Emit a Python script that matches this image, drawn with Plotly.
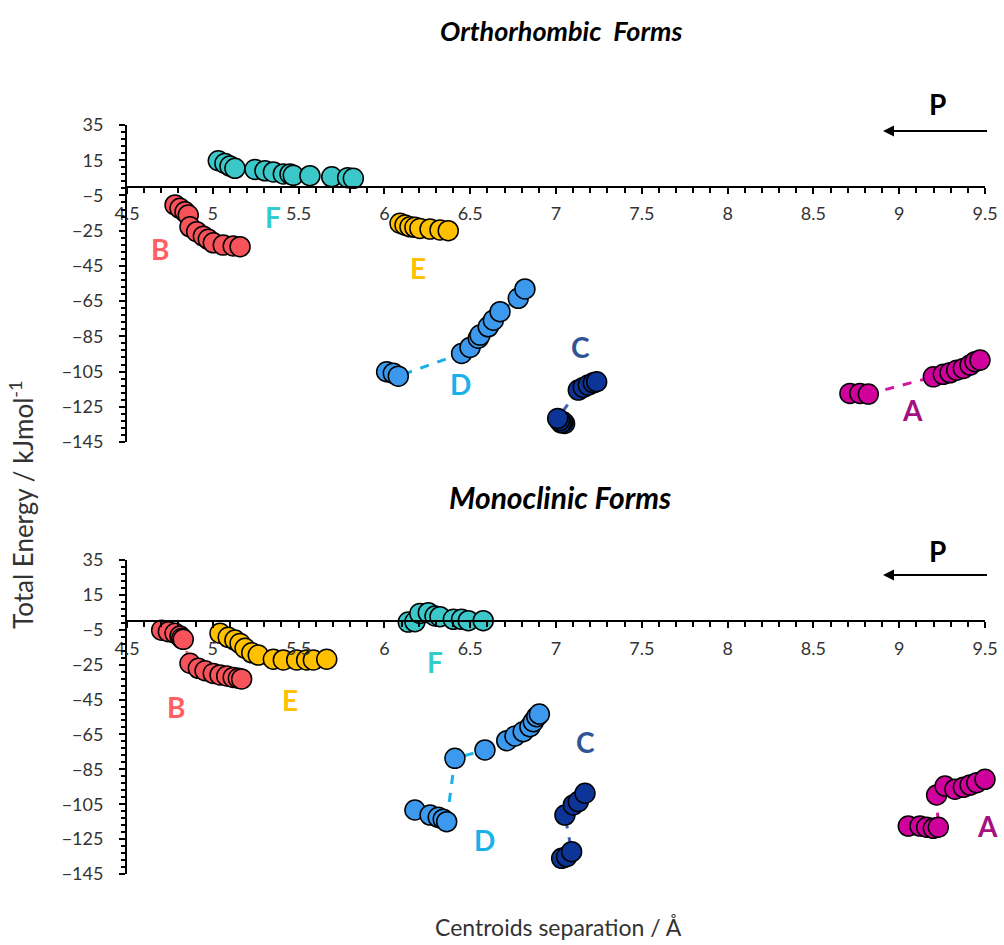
import plotly.graph_objects as go

# ---------------- data ----------------
# Orthorhombic forms (top panel)
orth_B_x = [4.780, 4.809, 4.838, 4.857, 4.867, 4.906, 4.945, 4.974, 5.003, 5.061, 5.119, 5.159]
orth_B_y = [-10.4, -12.3, -14.3, -16.1, -22.8, -25.6, -28.1, -29.9, -31.9, -33.2, -33.7, -34.1]
orth_F_x = [5.032, 5.071, 5.100, 5.129, 5.246, 5.304, 5.353, 5.411, 5.450, 5.469, 5.566, 5.693, 5.786, 5.819]
orth_F_y = [14.7, 13.2, 11.7, 10.4, 9.8, 9.0, 8.3, 7.2, 7.2, 6.4, 6.2, 5.6, 5.1, 4.7]
orth_E_x = [6.091, 6.120, 6.149, 6.178, 6.207, 6.266, 6.324, 6.372]
orth_E_y = [-20.8, -21.8, -22.8, -23.1, -23.7, -24.1, -24.6, -25.0]
orth_D_x = [6.013, 6.052, 6.081, 6.450, 6.499, 6.547, 6.557, 6.605, 6.635, 6.674, 6.780, 6.819]
orth_D_y = [-105.1, -106.0, -107.6, -94.7, -91.3, -86.1, -84.3, -79.6, -75.8, -71.0, -63.4, -58.1]
orth_C_x = [7.050, 7.040, 7.030, 7.020, 7.010, 7.130, 7.159, 7.188, 7.217, 7.237]
orth_C_y = [-134.5, -133.5, -134.1, -132.9, -131.6, -115.5, -114.0, -112.7, -111.4, -110.8]
orth_A_x = [8.713, 8.771, 8.820, 9.199, 9.257, 9.296, 9.335, 9.374, 9.413, 9.442, 9.471]
orth_A_y = [-117.4, -117.4, -117.8, -108.0, -106.6, -105.7, -104.2, -103.2, -101.3, -99.4, -98.5]

# Monoclinic forms (bottom panel)
mono_B_x = [4.702, 4.741, 4.780, 4.809, 4.819, 4.828, 4.867, 4.916, 4.955, 5.003, 5.042, 5.081, 5.119, 5.149, 5.168]
mono_B_y = [-5.2, -6.1, -7.0, -8.6, -9.9, -10.5, -24.2, -27.1, -28.5, -30.0, -30.9, -31.5, -32.3, -32.8, -33.2]
mono_E_x = [5.042, 5.090, 5.129, 5.159, 5.188, 5.227, 5.265, 5.353, 5.411, 5.489, 5.547, 5.586, 5.664]
mono_E_y = [-7.0, -9.3, -10.9, -12.8, -15.6, -18.2, -19.5, -21.9, -22.3, -22.3, -22.3, -22.3, -21.9]
mono_F_x = [6.139, 6.178, 6.207, 6.256, 6.295, 6.324, 6.402, 6.450, 6.489, 6.576]
mono_F_y = [-0.6, -0.4, 4.4, 4.8, 2.9, 2.5, 1.0, 1.0, 0.2, 0.2]
mono_D_x = [6.178, 6.266, 6.314, 6.343, 6.363, 6.411, 6.586, 6.713, 6.761, 6.809, 6.848, 6.868, 6.888, 6.903]
mono_D_y = [-108.3, -111.2, -112.5, -113.6, -115.0, -78.7, -73.9, -68.6, -65.9, -63.4, -60.6, -57.7, -54.8, -53.3]
mono_C_x = [7.033, 7.062, 7.091, 7.052, 7.101, 7.130, 7.169]
mono_C_y = [-136.0, -135.1, -132.2, -111.2, -105.4, -103.5, -98.7]
mono_A_x = [9.053, 9.121, 9.160, 9.199, 9.228, 9.218, 9.267, 9.325, 9.374, 9.413, 9.452, 9.500]
mono_A_y = [-117.5, -117.5, -118.2, -118.8, -118.2, -99.7, -94.6, -96.4, -95.3, -94.0, -92.7, -90.7]

x_range = [4.5, 9.5]
y_range = [-145, 35]

# label positions (data coords)
orth_labels = {"B": (4.692, -35.4), "F": (5.351, -17.3), "E": (6.196, -46.2),
               "D": (6.441, -112.1), "C": (7.140, -91.1), "A": (9.080, -126.9)}
mono_labels = {"B": (4.786, -49.3), "E": (5.450, -45.3), "F": (6.295, -23.5),
               "D": (6.586, -125.5), "C": (7.169, -69.3), "A": (9.517, -117.5)}

# ---------------- styles ----------------
marker_col = {"B": "#F7535A", "F": "#3CC8C8", "E": "#FFC000",
              "D": "#3C99EE", "C": "#0C3597", "A": "#CF009C"}
line_col = {"B": "#FF7070", "F": "#3CC8C8", "E": "#FFC000",
            "D": "#1AB0EA", "C": "#3D62AE", "A": "#D0159E"}
label_col = {"B": "#FF5F5F", "F": "#33CCCC", "E": "#FFC000",
             "D": "#1AB0EA", "C": "#2F5597", "A": "#A3137F"}

FONT = "Lato, 'Open Sans', sans-serif"
W, H = 1004, 945

xdom = [127 / W, 985 / W]
top_dom = [1 - 442 / H, 1 - 125 / H]
bot_dom = [1 - 874 / H, 1 - 560 / H]


def zero_pos(dom):
    return dom[0] + (0 - y_range[0]) / (y_range[1] - y_range[0]) * (dom[1] - dom[0])


def x_to_paper(v):
    return xdom[0] + (v - x_range[0]) / (x_range[1] - x_range[0]) * (xdom[1] - xdom[0])


fig = go.Figure()

orth = {"B": (orth_B_x, orth_B_y), "F": (orth_F_x, orth_F_y), "E": (orth_E_x, orth_E_y),
        "D": (orth_D_x, orth_D_y), "C": (orth_C_x, orth_C_y), "A": (orth_A_x, orth_A_y)}
mono = {"B": (mono_B_x, mono_B_y), "E": (mono_E_x, mono_E_y), "F": (mono_F_x, mono_F_y),
        "D": (mono_D_x, mono_D_y), "C": (mono_C_x, mono_C_y), "A": (mono_A_x, mono_A_y)}

for panel, (xa, ya) in ((orth, ("x", "y")), (mono, ("x2", "y2"))):
    for key, (xs, ys) in panel.items():
        fig.add_trace(go.Scatter(
            x=xs, y=ys, xaxis=xa, yaxis=ya, mode="lines+markers",
            line=dict(color=line_col[key], width=3, dash="dash"),
            marker=dict(size=20, color=marker_col[key], line=dict(color="black", width=1.5)),
            cliponaxis=False, showlegend=False, hoverinfo="skip"))

axis_common_x = dict(range=x_range, dtick=0.5, tick0=4.5, showgrid=False, zeroline=False,
                     showline=True, linecolor="black", linewidth=2, ticks="outside",
                     ticklen=6, tickwidth=1.5, tickcolor="black",
                     minor=dict(dtick=0.1, tick0=4.5, ticks="outside", ticklen=5,
                                tickwidth=1.5, tickcolor="black", showgrid=False),
                     tickfont=dict(family=FONT, size=18, color="#333333"),
                     ticklabelstandoff=5, domain=xdom, anchor="free", automargin=False)
axis_common_y = dict(range=y_range, dtick=20, tick0=-145, showgrid=False, zeroline=False,
                     showline=True, linecolor="black", linewidth=2, ticks="outside",
                     ticklen=6, tickwidth=1.5, tickcolor="black",
                     minor=dict(dtick=4, tick0=-145, ticks="outside", ticklen=4,
                                tickwidth=1.5, tickcolor="black", showgrid=False),
                     tickfont=dict(family=FONT, size=18, color="#333333"),
                     ticklabelstandoff=12, automargin=False)

fig.update_layout(
    width=W, height=H, margin=dict(l=0, r=0, t=0, b=0, pad=0, autoexpand=False),
    paper_bgcolor="white", plot_bgcolor="white",
    xaxis=dict(**axis_common_x, position=zero_pos(top_dom)),
    yaxis=dict(**axis_common_y, domain=top_dom, anchor="x"),
    xaxis2=dict(**axis_common_x, position=zero_pos(bot_dom)),
    yaxis2=dict(**axis_common_y, domain=bot_dom, anchor="x2"),
)

ann = []
for labels, xr, yr in ((orth_labels, "x", "y"), (mono_labels, "x2", "y2")):
    for key, (lx, ly) in labels.items():
        a = dict(x=lx, y=ly, xref=xr, yref=yr, text=f"<b>{key}</b>", showarrow=False,
                 xanchor="center", yanchor="middle",
                 font=dict(family=FONT, size=28, color=label_col[key]))
        if lx > x_range[1]:
            a.update(x=x_to_paper(lx), xref="paper")
        ann.append(a)

C = dict(xanchor="center", yanchor="middle", xref="paper", yref="paper", showarrow=False)
ann += [
    dict(x=561 / W, y=1 - 30 / H, text="<b><i>Orthorhombic  Forms</i></b>",
         font=dict(family=FONT, size=27, color="black"), **C),
    dict(x=560 / W, y=1 - 497 / H, text="<b><i>Monoclinic Forms</i></b>",
         font=dict(family=FONT, size=30, color="black"), **C),
    dict(x=21 / W, y=1 - 505 / H, textangle=-90, text="Total Energy / kJmol<sup>-1</sup>",
         font=dict(family=FONT, size=26, color="#333333"), **C),
    dict(x=558 / W, y=1 - 927 / H, text="Centroids separation / Å",
         font=dict(family=FONT, size=23, color="#333333"), **C),
]
for py_p, py_arrow in ((104, 131), (551, 575)):
    ann.append(dict(x=937 / W, y=1 - py_p / H, text="<b>P</b>",
                    font=dict(family=FONT, size=28, color="black"), **C))
    ann.append(dict(x=883 / W, y=1 - py_arrow / H, xref="paper", yref="paper", showarrow=True,
                    text=" ", ax=107, ay=0, arrowhead=2, arrowsize=1, arrowwidth=2.2,
                    arrowcolor="black", standoff=0, startstandoff=0))
fig.update_layout(annotations=ann)

fig.write_html("out.html")
